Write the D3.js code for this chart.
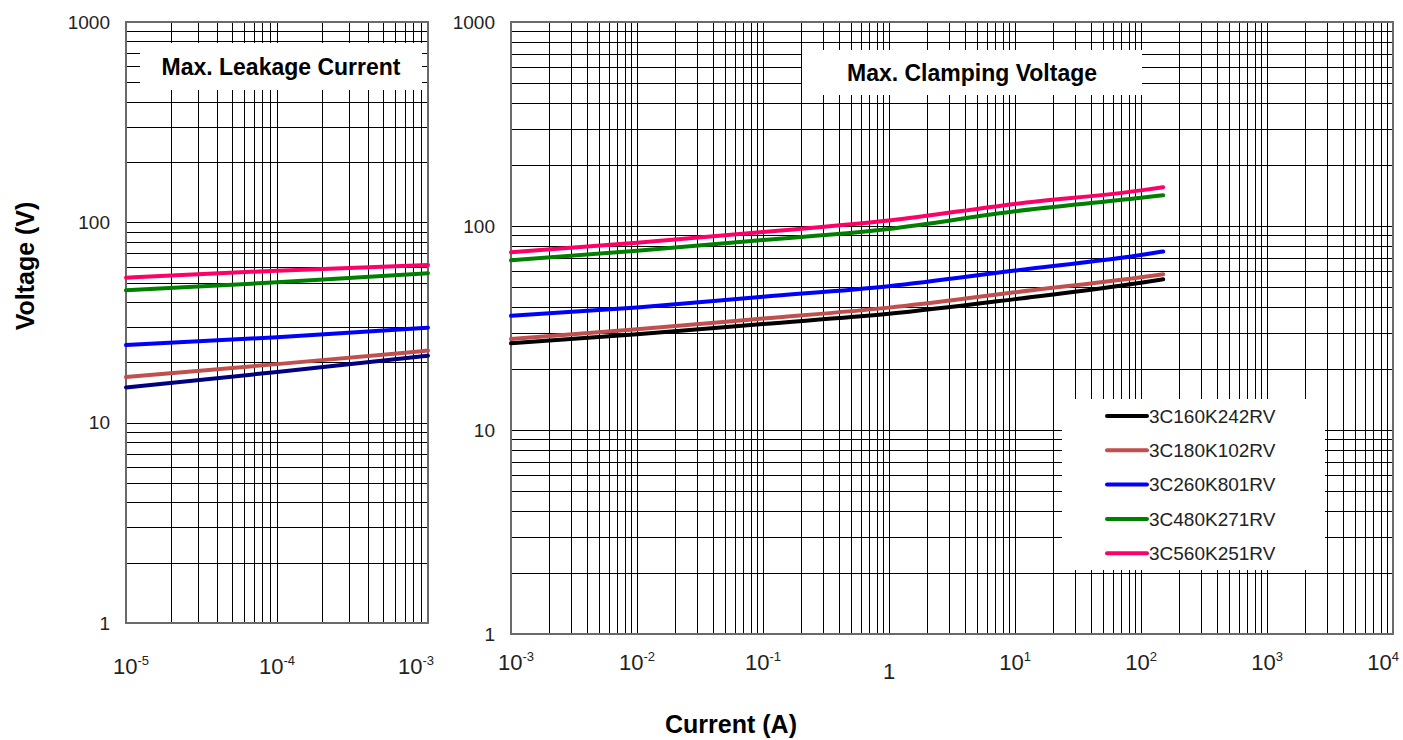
<!DOCTYPE html>
<html>
<head>
<meta charset="utf-8">
<script src="https://cdn.jsdelivr.net/npm/d3@7"></script>
<style>
  html, body { margin: 0; padding: 0; background: #fff; }
  svg { display: block; font-family: "Liberation Sans", Arial, sans-serif; }
</style>
</head>
<body>
<svg id="chart" width="1403" height="740"></svg>
<script>
// ---------------- DATA ----------------
const seriesNames = ["3C160K242RV", "3C180K102RV", "3C260K801RV", "3C480K271RV", "3C560K251RV"];

// Max. Leakage Current panel (current in A, voltage in V)
const leakCurrent = [1e-5, 1e-4, 1e-3];
const leak3C160 = [15.0, 17.9, 21.6];
const leak3C180 = [16.9, 19.6, 22.9];
const leak3C260 = [24.4, 26.7, 29.8];
const leak3C480 = [45.8, 50.2, 55.7];
const leak3C560 = [52.9, 57.4, 61.3];

// Max. Clamping Voltage panel
const clampCurrent = [1e-3, 1e-2, 1e-1, 1, 10, 100, 150];
const clamp3C160 = [26.6, 29.5, 33.1, 37.1, 43.8, 52.7, 54.8];
const clamp3C180 = [27.9, 31.2, 35.2, 39.8, 47.3, 56.1, 58.0];
const clamp3C260 = [36.3, 39.9, 45.0, 50.7, 60.5, 72.1, 75.0];
const clamp3C480 = [67.9, 75.7, 85.3, 96.7, 118.0, 137.4, 141.5];
const clamp3C560 = [74.3, 82.8, 93.5, 106.4, 128.3, 149.5, 155.0];

// Tick labels
const yTickValues = [1, 10, 100, 1000];
const yTickLabels = ["1", "10", "100", "1000"];
const leakXTickValues = [1e-5, 1e-4, 1e-3];
const leakXTickLabels = [["10", "-5"], ["10", "-4"], ["10", "-3"]];
const clampXTickValues = [1e-3, 1e-2, 1e-1, 1, 10, 100, 1000, 10000];
const clampXTickLabels = [["10", "-3"], ["10", "-2"], ["10", "-1"], ["1", ""], ["10", "1"], ["10", "2"], ["10", "3"], ["10", "4"]];

const titleLeak = "Max. Leakage Current";
const titleClamp = "Max. Clamping Voltage";
const yTitle = "Voltage (V)";
const xTitle = "Current (A)";

// ---------------- STYLE / LAYOUT ----------------
const leakColors = ["#000080", "#C0504D", "#0000FF", "#008000", "#FF0066"];
const clampColors = ["#000000", "#C0504D", "#0000FF", "#008000", "#FF0066"];

const svg = d3.select("#chart");

const panels = [
  {
    x0: 126, x1: 428, y0: 22, y1: 623,
    xDomain: [1e-5, 1e-3],
    current: leakCurrent,
    series: [leak3C160, leak3C180, leak3C260, leak3C480, leak3C560],
    colors: leakColors,
    xTicks: leakXTickValues, xLabels: leakXTickLabels,
    title: titleLeak, titleBox: { x: 140, y: 43, w: 282, h: 47 },
    legend: null,
    xLabelBaseline: 674
  },
  {
    x0: 511, x1: 1393, y0: 22, y1: 634,
    xDomain: [1e-3, 1e4],
    current: clampCurrent,
    series: [clamp3C160, clamp3C180, clamp3C260, clamp3C480, clamp3C560],
    colors: clampColors,
    xTicks: clampXTickValues, xLabels: clampXTickLabels,
    title: titleClamp, titleBox: { x: 802, y: 50, w: 340, h: 45 },
    legend: { x: 1062, y: 399, w: 263, h: 171 },
    xLabelBaseline: 670
  }
];

panels.forEach(p => {
  const x = d3.scaleLog().domain(p.xDomain).range([p.x0, p.x1]);
  const y = d3.scaleLog().domain([1, 1000]).range([p.y1, p.y0]);
  const w = p.x1 - p.x0, h = p.y1 - p.y0;

  const g = svg.append("g");

  // grid via axes
  const xGrid = g.append("g")
    .attr("transform", `translate(0,${p.y1})`)
    .call(d3.axisBottom(x).ticks(20).tickSize(-h).tickFormat(""));
  xGrid.select(".domain").remove();
  xGrid.selectAll("line").attr("stroke", "#000").attr("stroke-width", 1).attr("shape-rendering", "crispEdges");

  const yGrid = g.append("g")
    .attr("transform", `translate(${p.x0},0)`)
    .call(d3.axisLeft(y).ticks(20).tickSize(-w).tickFormat(""));
  yGrid.select(".domain").remove();
  yGrid.selectAll("line").attr("stroke", "#000").attr("stroke-width", 1).attr("shape-rendering", "crispEdges");

  // frame
  g.append("rect")
    .attr("x", p.x0).attr("y", p.y0).attr("width", w).attr("height", h)
    .attr("fill", "none").attr("stroke", "#6a6a6a").attr("stroke-width", 2);

  // y tick labels
  const yAx = g.append("g")
    .attr("transform", `translate(${p.x0},0)`)
    .call(d3.axisLeft(y).tickValues(yTickValues).tickSize(0).tickPadding(16)
      .tickFormat((d, i) => yTickLabels[i]));
  yAx.select(".domain").remove();
  yAx.selectAll("text")
    .attr("font-size", 19).attr("fill", "#222")
    .attr("font-family", "'Liberation Sans', Arial, sans-serif");

  // series lines
  const line = d3.line()
    .x(d => x(d[0])).y(d => y(d[1]))
    .curve(d3.curveMonotoneX);
  p.series.forEach((vals, i) => {
    g.append("path")
      .datum(p.current.map((c, k) => [c, vals[k]]))
      .attr("fill", "none")
      .attr("stroke", p.colors[i])
      .attr("stroke-width", 4)
      .attr("stroke-linecap", "round")
      .attr("d", line);
  });

  // title box
  g.append("rect")
    .attr("x", p.titleBox.x).attr("y", p.titleBox.y)
    .attr("width", p.titleBox.w).attr("height", p.titleBox.h)
    .attr("fill", "#fff");
  g.append("text")
    .attr("x", p.titleBox.x + p.titleBox.w / 2)
    .attr("y", p.titleBox.y + p.titleBox.h / 2 + 8)
    .attr("text-anchor", "middle")
    .attr("font-size", 23).attr("font-weight", "bold").attr("fill", "#000")
    .text(p.title);

  // x tick labels with superscripts
  const labels = g.append("g").selectAll("text")
    .data(p.xTicks)
    .join("text")
    .attr("y", (d, i) => p.xLabelBaseline + (p.xLabels[i][1] === "" ? 9 : 0))
    .attr("font-size", 22).attr("fill", "#222");
  labels.append("tspan").text((d, i) => p.xLabels[i][0]);
  labels.append("tspan")
    .attr("font-size", 13).attr("dy", -9)
    .text((d, i) => p.xLabels[i][1]);
  labels.each(function (d) {
    const t = d3.select(this);
    const bw = this.getComputedTextLength();
    let cx = x(d);
    let left = cx - bw / 2;
    if (left < p.x0 - 13) left = p.x0 - 13;
    if (left + bw > p.x1 + 6) left = p.x1 + 6 - bw;
    t.attr("x", left);
  });

  // legend
  if (p.legend) {
    g.append("rect")
      .attr("x", p.legend.x).attr("y", p.legend.y)
      .attr("width", p.legend.w).attr("height", p.legend.h)
      .attr("fill", "#fff");
    const items = g.append("g").selectAll("g")
      .data(seriesNames)
      .join("g")
      .attr("transform", (d, i) => `translate(${p.legend.x + 45},${p.legend.y + 17 + i * 34.3})`);
    items.append("line")
      .attr("x1", 0).attr("x2", 40).attr("y1", 0).attr("y2", 0)
      .attr("stroke", (d, i) => p.colors[i]).attr("stroke-width", 4)
      .attr("stroke-linecap", "round");
    items.append("text")
      .attr("x", 42).attr("y", 0).attr("dy", "0.36em")
      .attr("font-size", 19).attr("fill", "#222")
      .text(d => d);
  }
});

// axis titles
svg.append("text")
  .attr("transform", "translate(25,266) rotate(-90)")
  .attr("text-anchor", "middle").attr("dy", "0.35em")
  .attr("font-size", 25).attr("font-weight", "bold").attr("fill", "#000")
  .text(yTitle);
svg.append("text")
  .attr("x", 731).attr("y", 733)
  .attr("text-anchor", "middle")
  .attr("font-size", 25).attr("font-weight", "bold").attr("fill", "#000")
  .text(xTitle);
</script>
</body>
</html>
